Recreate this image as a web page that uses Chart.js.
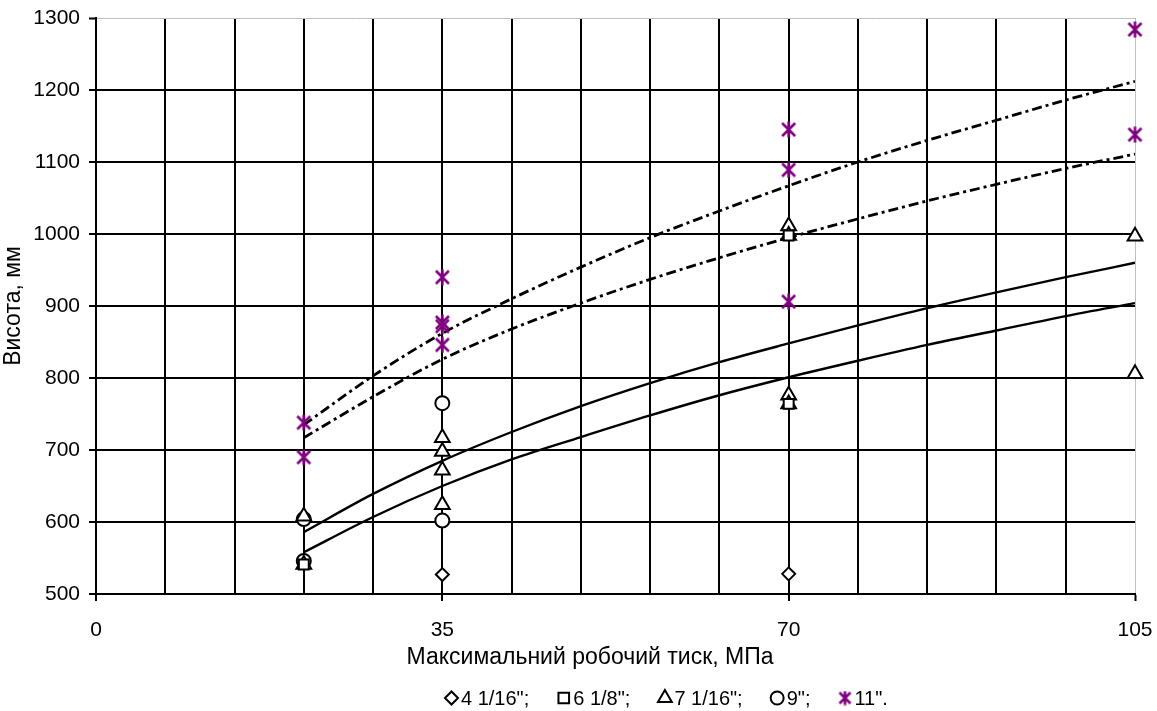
<!DOCTYPE html>
<html><head><meta charset="utf-8">
<script src="https://cdn.jsdelivr.net/npm/chart.js@4/dist/chart.umd.min.js"></script>
<style>html,body{margin:0;padding:0;background:#fff;overflow:hidden}</style>
</head><body>
<canvas id="c" width="1157" height="711"></canvas>
<script>
// ---- data ----
const xLabelTicks = [0, 35, 70, 105];
const seriesNames = ['4 1/16";', '6 1/8";', '7 1/16";', '9";', '11".'];
const xTitle = 'Максимальний робочий тиск, МПа';
const yTitle = 'Висота, мм';

const s4x = [35, 70];
const s4y = [527, 528];

const s6x = [21, 70, 70];
const s6y = [541, 998, 764];

const s7x = [21, 21, 35, 35, 35, 35, 70, 70, 70, 70, 105, 105];
const s7y = [608, 541, 717, 698, 672, 624, 1011, 998, 776, 764, 997, 806];

const s9x = [21, 21, 35, 35];
const s9y = [604, 546, 765, 602];

const s11x = [21, 21, 35, 35, 35, 35, 70, 70, 70, 105, 105];
const s11y = [738, 690, 940, 877, 872, 846, 1145, 1089, 906, 1284, 1138];

const trendX = [21, 28, 35, 42, 49, 56, 63, 70, 77, 84, 91, 98, 105];
const trendDashHigh = [735, 803, 862, 910, 954, 995, 1032, 1067, 1100, 1130, 1158, 1186, 1212];
const trendDashLow  = [717, 774, 826, 868, 904, 937, 967, 995, 1021, 1046, 1069, 1091, 1111];
const trendSolidHigh = [586, 639, 685, 725, 761, 793, 822, 848, 873, 897, 919, 940, 960];
const trendSolidLow  = [558, 607, 650, 687, 718, 748, 776, 801, 824, 846, 866, 886, 904];

// ---- helpers ----
const pts = (xs, ys) => xs.map((x, i) => ({x: x, y: ys[i]}));
const FONT = '"Liberation Sans", Arial, sans-serif';

function makeStar(size, color) {
  const c = document.createElement('canvas');
  c.width = size; c.height = size;
  const g = c.getContext('2d');
  g.strokeStyle = color; g.lineWidth = 2.6; g.lineCap = 'butt';
  const m = 2, s = size - 2;
  g.beginPath();
  g.moveTo(m, m); g.lineTo(s, s);
  g.moveTo(s, m); g.lineTo(m, s);
  g.moveTo(size / 2, 0.5); g.lineTo(size / 2, size - 0.5);
  g.stroke();
  return c;
}
const starImg = makeStar(17, '#800080');
const starLegendImg = makeStar(15, '#800080');

const markerBase = {showLine: false, borderColor: '#000', backgroundColor: '#fff', borderWidth: 2, order: 1, clip: false};

const datasets = [
  Object.assign({}, markerBase, {label: seriesNames[0], data: pts(s4x, s4y), pointStyle: 'rectRot', pointRadius: 6.5, legendRadius: 6.5}),
  Object.assign({}, markerBase, {label: seriesNames[1], data: pts(s6x, s6y), pointStyle: 'rect', pointRadius: 7, legendRadius: 7.5}),
  Object.assign({}, markerBase, {label: seriesNames[2], data: pts(s7x, s7y), pointStyle: 'triangle', pointRadius: 8.5, legendRadius: 8}),
  Object.assign({}, markerBase, {label: seriesNames[3], data: pts(s9x, s9y), pointStyle: 'circle', pointRadius: 7, legendRadius: 6.5}),
  Object.assign({}, markerBase, {label: seriesNames[4], data: pts(s11x, s11y), pointStyle: starImg, legendStyle: starLegendImg, pointRadius: 8, legendRadius: 7.5, borderColor: '#800080', backgroundColor: '#800080'}),
];
const lineBase = {showLine: true, pointRadius: 0, borderColor: '#000', borderWidth: 2.4, fill: false, cubicInterpolationMode: 'monotone', order: 5, isTrend: true};
const dashDot = [10, 4, 3, 4];
datasets.push(Object.assign({}, lineBase, {label: 't1', data: pts(trendX, trendDashHigh), borderDash: dashDot, borderWidth: 2.8}));
datasets.push(Object.assign({}, lineBase, {label: 't2', data: pts(trendX, trendDashLow), borderDash: dashDot, borderWidth: 2.8}));
datasets.push(Object.assign({}, lineBase, {label: 't3', data: pts(trendX, trendSolidHigh)}));
datasets.push(Object.assign({}, lineBase, {label: 't4', data: pts(trendX, trendSolidLow)}));

Chart.defaults.font.family = FONT;
Chart.defaults.color = '#000';

// x-axis title and legend drawn below the axis (positions follow the reference layout)
const bottomTexts = {
  id: 'bottomTexts',
  afterDraw(chart) {
    const ctx = chart.ctx;
    ctx.save();
    ctx.fillStyle = '#000';
    ctx.textBaseline = 'middle';
    ctx.font = '23px ' + FONT;
    ctx.textAlign = 'center';
    ctx.fillText(xTitle, 590, 658);

    ctx.font = '20px ' + FONT;
    ctx.textAlign = 'left';
    let x = 445;
    const y = 698;
    chart.data.datasets.forEach(ds => {
      if (ds.isTrend) return;
      const r = ds.legendRadius;
      const w = 13;
      ctx.save();
      ctx.fillStyle = ds.backgroundColor;
      ctx.strokeStyle = ds.borderColor;
      ctx.lineWidth = 2;
      Chart.helpers.drawPoint(ctx, {pointStyle: ds.legendStyle || ds.pointStyle, radius: r, borderWidth: 2, rotation: 0}, x + w / 2, y);
      ctx.restore();
      x += w + 3;
      ctx.fillText(ds.label, x, y + 1);
      x += ctx.measureText(ds.label).width + 28;
    });
    ctx.restore();
  }
};

new Chart(document.getElementById('c'), {
  type: 'scatter',
  data: {datasets: datasets},
  plugins: [bottomTexts],
  options: {
    responsive: false,
    animation: false,
    events: [],
    layout: {padding: {left: 0, right: 22, top: 18, bottom: 68}},
    plugins: {
      tooltip: {enabled: false},
      legend: {display: false}
    },
    scales: {
      x: {
        type: 'linear', min: 0, max: 105,
        border: {color: '#000', width: 2},
        afterFit: s => { s.paddingLeft = 0; s.paddingRight = 0; s.height = 49; },
        grid: {
          color: ctx => (ctx.tick && ctx.tick.value === 105) ? '#c0c0c0' : '#000',
          lineWidth: ctx => (ctx.tick && ctx.tick.value === 105) ? 1 : 2,
          tickColor: ctx => (ctx.tick && xLabelTicks.includes(ctx.tick.value)) ? '#000' : 'rgba(0,0,0,0)',
          tickLength: 7,
          tickWidth: 2
        },
        ticks: {
          stepSize: 7, autoSkip: false, maxRotation: 0, padding: 17,
          font: {size: 21, family: FONT}, color: '#000',
          callback: v => xLabelTicks.includes(v) ? String(v) : ''
        },
        title: {display: false}
      },
      y: {
        min: 500, max: 1300,
        border: {color: '#000', width: 2},
        afterFit: s => { s.paddingTop = 0; s.paddingBottom = 0; s.width = 96; },
        grid: {
          color: ctx => (ctx.tick && ctx.tick.value === 1300) ? '#c0c0c0' : '#000',
          lineWidth: ctx => (ctx.tick && ctx.tick.value === 1300) ? 1 : 2,
          tickColor: '#000',
          tickLength: 7,
          tickWidth: 2
        },
        ticks: {stepSize: 100, padding: 9, font: {size: 21, family: FONT}, color: '#000', callback: v => String(v)},
        title: {display: true, text: yTitle, font: {size: 23, family: FONT}, color: '#000', padding: {top: 0, bottom: 0}}
      }
    }
  }
});
</script>
</body></html>
